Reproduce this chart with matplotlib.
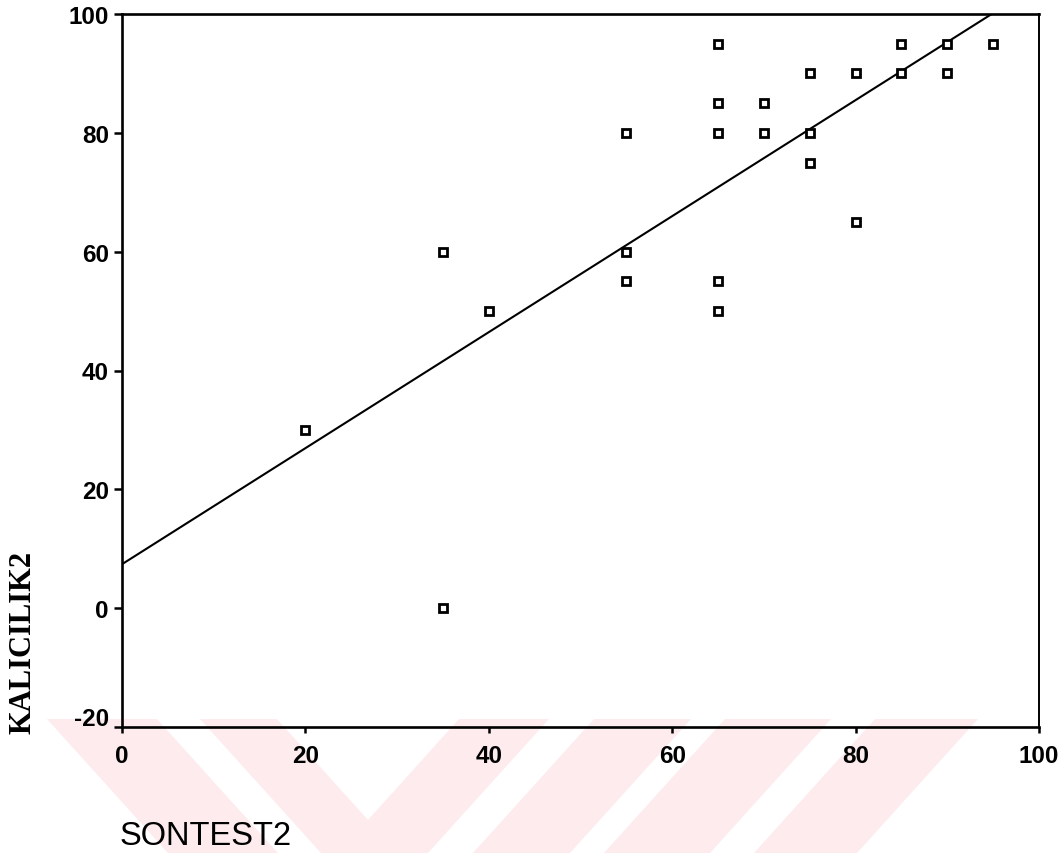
import numpy as np
import matplotlib
matplotlib.use("Agg")
import matplotlib.pyplot as plt
from matplotlib.patches import Polygon
import matplotlib.transforms as mtransforms

plt.rcParams["axes.unicode_minus"] = False

# data
sontest2 = [20, 35, 35, 40, 55, 55, 55, 65, 65, 65, 65, 65,
            70, 70, 75, 75, 75, 80, 80, 85, 85, 90, 90, 95]
kalicilik2 = [30, 60, 0, 50, 80, 60, 55, 95, 85, 80, 55, 50,
              85, 80, 90, 80, 75, 90, 65, 95, 90, 95, 90, 95]
x_ticks = [0, 20, 40, 60, 80, 100]
y_ticks = [-20, 0, 20, 40, 60, 80, 100]

W, H = 1062, 854
fig = plt.figure(figsize=(W / 100, H / 100), dpi=100)
fig.patch.set_facecolor("white")

# faint watermark stripes at the bottom (pixel coords, y down)
stripes = [
    [(47, 720), (157, 720), (278, 854), (168, 854)],
    [(200, 720), (277, 720), (368, 821), (459, 720), (549, 720), (428, 854), (321, 854)],
    [(594, 720), (691, 720), (570, 854), (473, 854)],
    [(725, 720), (831, 720), (710, 854), (604, 854)],
    [(875, 720), (978, 720), (857, 854), (754, 854)],
]
for pts in stripes:
    verts = [(px / W, 1 - py / H) for px, py in pts]
    fig.patches.append(Polygon(verts, closed=True, transform=fig.transFigure,
                               facecolor="#fdebee", edgecolor="none", zorder=-5))

ax = fig.add_axes([122 / W, 1 - 728 / H, (1039 - 122) / W, (728 - 15) / H])
ax.set_facecolor("none")

ax.plot(sontest2, kalicilik2, linestyle="none", marker="s", markersize=6.3,
        markerfacecolor="white", markeredgecolor="black", markeredgewidth=2.0, zorder=3)

# least squares line
slope, intercept = np.polyfit(sontest2, kalicilik2, 1)
xs = np.array([0, 100])
ax.plot(xs, intercept + slope * xs, color="black", linewidth=1.5, zorder=2)

ax.set_xlim(0, 100)
ax.set_ylim(-20, 100)
ax.set_xticks(x_ticks)
ax.set_yticks(y_ticks)

for side in ["left", "top", "bottom"]:
    ax.spines[side].set_linewidth(1.9)
ax.spines["right"].set_linewidth(1.4)

ax.tick_params(axis="y", direction="out", length=5.5, width=1.8, pad=4)
ax.tick_params(axis="x", direction="out", length=4.5, width=1.8, pad=8)
for lab in ax.get_xticklabels() + ax.get_yticklabels():
    lab.set_fontfamily("Liberation Sans")
    lab.set_fontweight("bold")
    lab.set_fontsize(17.5)

# the lowest y label sits a little above its tick in the original
low = ax.get_yticklabels()[0]
low.set_transform(low.get_transform() +
                  mtransforms.ScaledTranslation(0, 8 / 72, fig.dpi_scale_trans))

fig.text(120 / W, 1 - 845 / H, "SONTEST2", fontfamily="Liberation Sans",
         fontsize=23.5, ha="left", va="baseline")
fig.text(23 / W, 1 - 643 / H, "KALICILIK2", fontfamily="Liberation Serif",
         fontweight="bold", fontsize=22, rotation=90, ha="center", va="center")

fig.savefig("out.png", dpi=100)
